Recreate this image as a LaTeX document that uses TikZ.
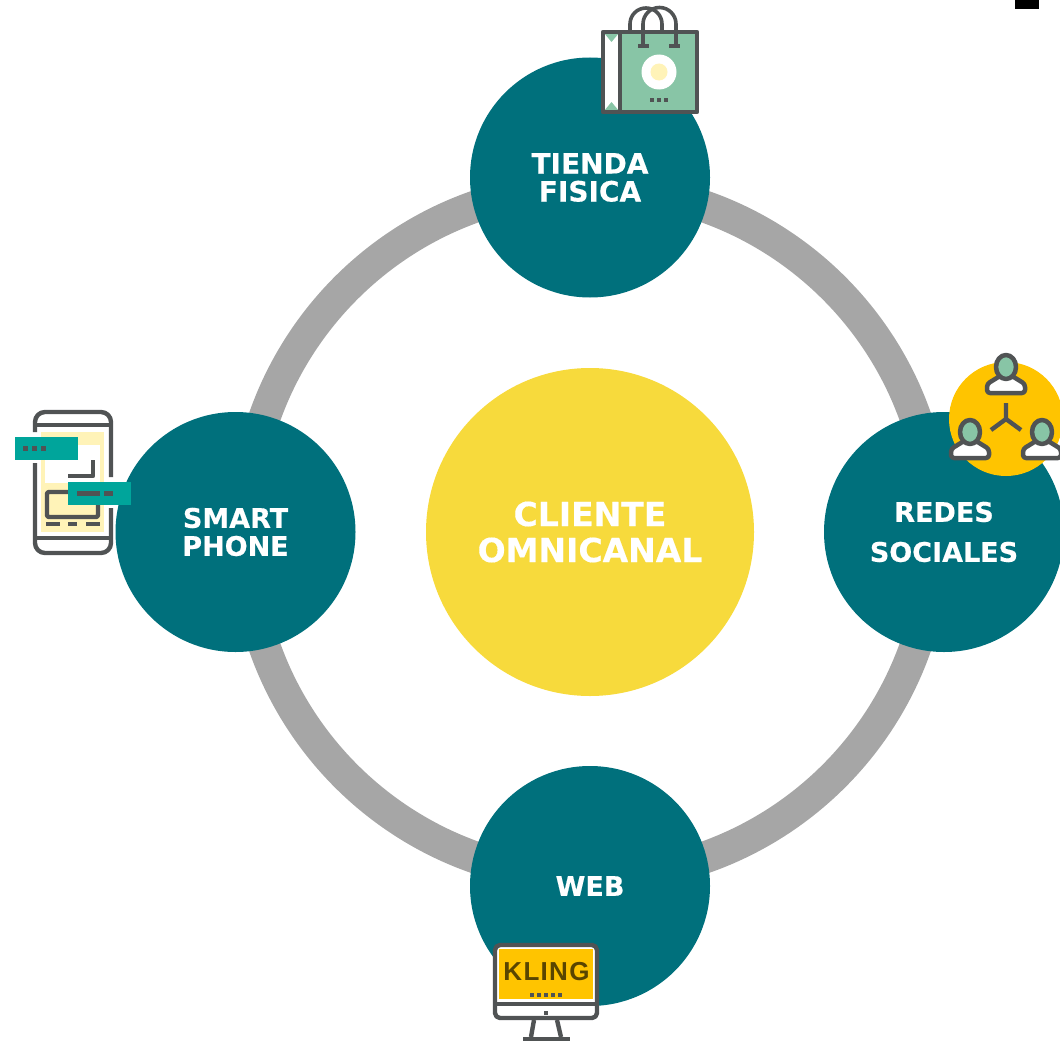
\documentclass[tikz,border=0pt]{standalone}
\usepackage{fontspec}
\setmainfont[BoldFeatures={FakeBold=0.4}]{DejaVu Sans}
\newfontfamily\klingfont[LetterSpace=5]{Liberation Sans}
\definecolor{teal1}{HTML}{00707C}
\definecolor{ringgray}{HTML}{A6A6A6}
\definecolor{sun}{HTML}{F7DA3C}
\definecolor{amber}{HTML}{FFC400}
\definecolor{icongray}{HTML}{505354}
\definecolor{mint}{HTML}{88C5A6}
\definecolor{cream}{HTML}{FFF3B8}
\definecolor{aqua}{HTML}{00A59B}
\tikzset{
  x=1pt,y=-1pt,
  hub/.style={circle,fill=teal1,minimum size=240pt,inner sep=0pt,text=white,align=center,
    font=\fontsize{27}{28}\bfseries\selectfont},
  centre/.style={circle,fill=sun,minimum size=328pt,inner sep=0pt,text=white,align=center,
    font=\fontsize{33}{36}\bfseries\selectfont},
  ringline/.style={circle,draw=ringgray,line width=32pt,minimum size=690pt,inner sep=0pt},
  ico/.style={draw=icongray,line width=4.4pt,line join=round},
  icofine/.style={fill=icongray,draw=none},
  pics/person/.style={code={
    \path[ico,line width=4.5pt,fill=white,rounded corners=3pt] (-6,9)--(-19,17)--(-19,26)--(19,26)--(19,17)--(6,9)--cycle;
    \path[ico,line width=4.5pt,fill=mint] (0,0) ellipse [x radius=10,y radius=12];
  }}
}
\begin{document}
\begin{tikzpicture}
\useasboundingbox (0,0) rectangle (1060,1041);
\clip (0,0) rectangle (1060,1041);
\fill[black] (1015,0) rectangle (1039,9);
\node[ringline] (ring) at (590,532) {};
\node[centre] (cliente) at (590,532) {CLIENTE\\OMNICANAL};
\node[hub,font=\fontsize{28}{28}\bfseries\selectfont] (tienda) at (590,177.5) {TIENDA\\FISICA};
\node[hub] (smart) at (235.5,532) {SMART\\PHONE};
\node[hub,font=\fontsize{27}{40}\bfseries\selectfont] (redes) at (944,532) {REDES\\SOCIALES};
\node[hub] (web) at (590,886) {WEB};

% bag
\draw[ico,line width=3.6pt] (630,31) -- (630,24) arc[start angle=180,end angle=0,x radius=16,y radius=-16] -- (662,31);
\fill[mint] (620,32) rectangle (698,113);
\fill[white] (603,32) rectangle (620,113);
\fill[mint] (604,33) -- (619,33) -- (611.5,42) -- cycle;
\fill[mint] (604,111) -- (619,111) -- (611.5,102) -- cycle;
\draw[ico] (603,32) rectangle (697,112);
\draw[ico] (620,32) -- (620,112);
\draw[ico,line width=3.6pt] (643,46) -- (643,24) arc[start angle=180,end angle=0,x radius=16.5,y radius=-16.5] -- (676,46);
\draw[ico,line width=3.6pt] (638,46) -- (649,46) (669,46) -- (680,46);
\fill[white] (659,72) circle (17.5);
\fill[cream] (659,72) circle (8.5);
\foreach \xx in {652,659,666} \fill[icofine] (\xx-1.8,98) rectangle (\xx+1.8,102);

% people
\node[circle,fill=amber,minimum size=114pt,inner sep=0pt] (socialdisc) at (1006,419) {};
\draw[ico] (1006,403) -- (1006,419) (991,430) -- (1006,419) -- (1021,430);
\pic at (1006,367) {person};
\pic at (970,432) {person};
\pic at (1042,432) {person};

% phone
\fill[cream] (41,432) rectangle (104,532);
\fill[white] (45,445) rectangle (100,483);
\draw[ico,rounded corners=10pt] (35,432) -- (35,412) -- (111,412) -- (111,477);
\draw[ico,rounded corners=10pt] (35,463) -- (35,553) -- (111,553) -- (111,508);
\draw[ico] (35,425) -- (111,425) (35,538) -- (111,538);
\draw[ico,line join=round] (93,460) -- (93,476) -- (68,476);
\draw[ico,rounded corners=2pt] (47,492) rectangle (98,517);
\foreach \xa/\xb in {46/60,68/77,86/100} \fill[icofine] (\xa,522) rectangle (\xb,526);
\fill[aqua] (15,437) rectangle (78,460);
\fill[aqua] (68,482) rectangle (131,505);
\foreach \xx in {23,32,41} \fill[icofine] (\xx,446) rectangle (\xx+5,451);
\fill[icofine] (77,491) rectangle (100,496);
\fill[icofine] (104,491) rectangle (113,496);

% monitor
\fill[white] (495,945) rectangle (597,1018);
\fill[amber] (499,949) rectangle (593,999);
\draw[ico,rounded corners=5pt] (495,945) rectangle (597,1018);
\draw[ico] (495,1004) -- (597,1004);
\draw[ico] (534,1020) -- (531,1037) (557,1020) -- (561,1037);
\fill[icofine] (523,1036.5) rectangle (570,1040.5);
\fill[icofine] (544,1011) rectangle (548,1015);
\foreach \xx in {530,537,544,551,558} \fill[icofine] (\xx,993) rectangle (\xx+4,997);
\node[text=black!65!amber,font=\klingfont\fontsize{26}{26}\bfseries\selectfont,inner sep=0pt] (kling) at (546.5,971.5) {KLING};
\end{tikzpicture}
\end{document}
